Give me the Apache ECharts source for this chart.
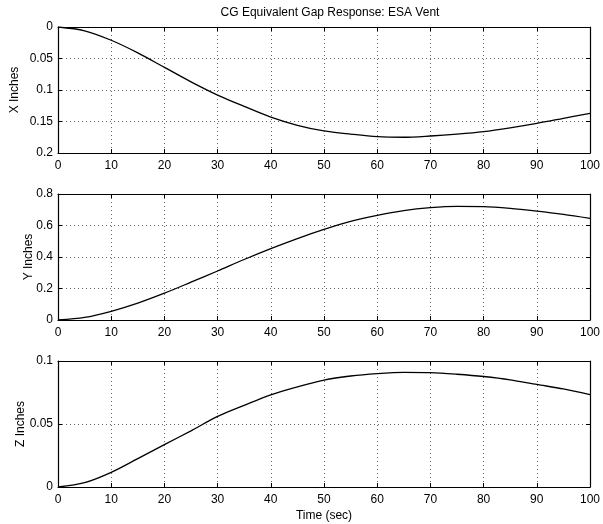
<!DOCTYPE html>
<html>
<head>
<meta charset="utf-8">
<style>
  html, body { margin: 0; padding: 0; background: #fff; }
  #chart { width: 603px; height: 524px; }
</style>
<script src="https://cdn.jsdelivr.net/npm/echarts@6/dist/echarts.min.js"></script>
</head>
<body>
<div id="chart"></div>
<script>
// Time samples (sec)
const timeSec = [0, 5, 10, 15, 20, 25, 30, 35, 40, 45, 50, 55, 60, 65, 70, 75, 80, 85, 90, 95, 100];
// CG equivalent gap components (inches)
const xInches = [0, 0.006, 0.021, 0.041, 0.064, 0.087, 0.108, 0.126, 0.143, 0.156, 0.165, 0.170, 0.174, 0.175, 0.173, 0.170, 0.166, 0.160, 0.153, 0.145, 0.137];
const yInches = [0, 0.016, 0.055, 0.107, 0.170, 0.240, 0.311, 0.384, 0.453, 0.517, 0.575, 0.626, 0.665, 0.695, 0.713, 0.721, 0.720, 0.709, 0.691, 0.670, 0.645];
const zInches = [0, 0.0034, 0.0116, 0.0225, 0.0336, 0.0446, 0.0560, 0.0648, 0.0732, 0.0795, 0.0849, 0.0881, 0.0900, 0.0910, 0.0908, 0.0895, 0.0877, 0.0851, 0.0814, 0.0778, 0.0733];

// Axis tick settings
const timeTicks = { min: 0, max: 100, interval: 10 };
const xTicks = { min: 0, max: 0.2, interval: 0.05 };
const yTicks = { min: 0, max: 0.8, interval: 0.2 };
const zTicks = { min: 0, max: 0.1, interval: 0.05 };

const FONT = 'Liberation Sans';
const grids = [
  { left: 58, right: 11, top: 27, height: 126 },
  { left: 58, right: 11, top: 194, height: 126 },
  { left: 58, right: 11, top: 361, height: 126 }
];

const lineStyle = { color: '#000', width: 1.2 };
const gridLine = { show: true, lineStyle: { color: '#666', width: 1, type: [1, 3] } };
const tick = { show: true, inside: true, length: 4, lineStyle: { color: '#000' } };

const xAxes = [];
const yAxes = [];
grids.forEach((g, i) => {
  // bottom time axis with labels
  xAxes.push(Object.assign({
    type: 'value', gridIndex: i, position: 'bottom',
    axisLine: { show: true, onZero: false, lineStyle },
    axisTick: tick,
    axisLabel: { color: '#000', fontFamily: FONT, fontSize: 12, margin: 7 },
    splitLine: gridLine,
    name: i === 2 ? 'Time (sec)' : '',
    nameLocation: 'middle', nameGap: 23, nameMoveOverlap: false,
    nameTextStyle: { color: '#000', fontFamily: FONT, fontSize: 12 }
  }, timeTicks));
  // top frame edge
  xAxes.push(Object.assign({
    type: 'value', gridIndex: i, position: 'top',
    axisLine: { show: true, onZero: false, lineStyle },
    axisTick: tick, axisLabel: { show: false }, splitLine: { show: false }
  }, timeTicks));
});

const yDefs = [
  { name: 'X Inches', ticks: xTicks, inverse: true, gap: 37 },
  { name: 'Y Inches', ticks: yTicks, inverse: false, gap: 23 },
  { name: 'Z Inches', ticks: zTicks, inverse: false, gap: 31 }
];
yDefs.forEach((d, i) => {
  yAxes.push(Object.assign({
    type: 'value', gridIndex: i, position: 'left', inverse: d.inverse,
    axisLine: { show: true, onZero: false, lineStyle },
    axisTick: tick,
    axisLabel: { color: '#000', fontFamily: FONT, fontSize: 12, margin: 5 },
    splitLine: gridLine,
    name: d.name, nameLocation: 'middle', nameGap: d.gap, nameRotate: 90,
    nameMoveOverlap: false,
    nameTextStyle: { color: '#000', fontFamily: FONT, fontSize: 12 }
  }, d.ticks));
  yAxes.push(Object.assign({
    type: 'value', gridIndex: i, position: 'right', inverse: d.inverse,
    axisLine: { show: true, onZero: false, lineStyle },
    axisTick: tick, axisLabel: { show: false }, splitLine: { show: false }
  }, d.ticks));
});

function pairs(vals) { return timeSec.map((t, k) => [t, vals[k]]); }

const seriesDefs = [xInches, yInches, zInches];
const series = seriesDefs.map((vals, i) => ({
  type: 'line', xAxisIndex: i * 2, yAxisIndex: i * 2,
  data: pairs(vals), smooth: 0.3, showSymbol: false, symbol: 'none',
  lineStyle: { color: '#000', width: 1.3 }, animation: false, silent: true
}));

const chart = echarts.init(document.getElementById('chart'), null, { renderer: 'canvas' });
chart.setOption({
  backgroundColor: '#fff',
  animation: false,
  title: {
    text: 'CG Equivalent Gap Response: ESA Vent',
    left: 325, top: 2, textAlign: 'center',
    textStyle: { color: '#000', fontFamily: FONT, fontSize: 12, fontWeight: 'normal' }
  },
  grid: grids,
  xAxis: xAxes,
  yAxis: yAxes,
  series
});
</script>
</body>
</html>
